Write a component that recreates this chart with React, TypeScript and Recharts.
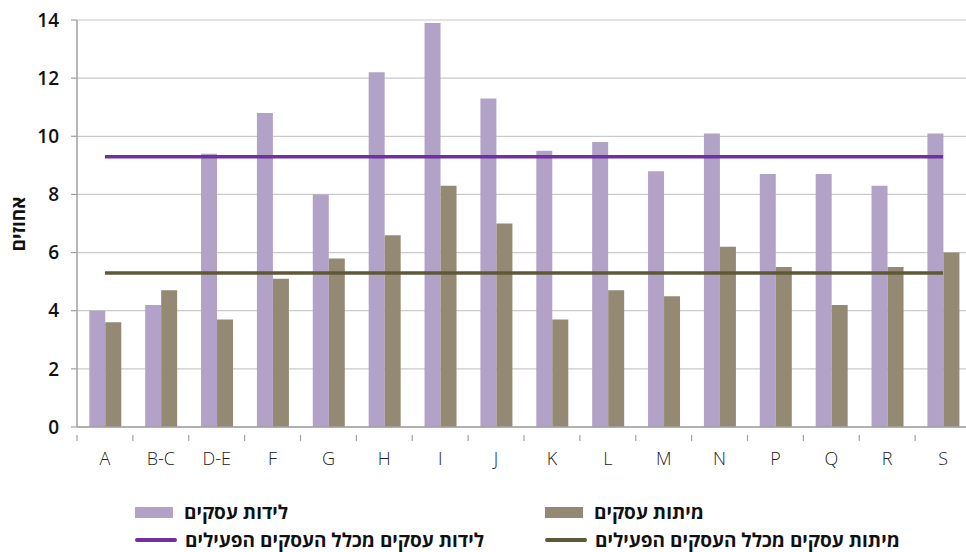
import React from "react";
import {
  ComposedChart,
  Bar,
  Line,
  XAxis,
  YAxis,
  CartesianGrid,
} from "recharts";

// sectors (x axis)
const categories = ["A", "B-C", "D-E", "F", "G", "H", "I", "J", "K", "L", "M", "N", "P", "Q", "R", "S"];
// business births, %
const births = [4.0, 4.2, 9.4, 10.8, 8.0, 12.2, 13.9, 11.3, 9.5, 9.8, 8.8, 10.1, 8.7, 8.7, 8.3, 10.1];
// business deaths, %
const deaths = [3.6, 4.7, 3.7, 5.1, 5.8, 6.6, 8.3, 7.0, 3.7, 4.7, 4.5, 6.2, 5.5, 4.2, 5.5, 6.0];
// averages across all active businesses
const birthsAll = 9.3;
const deathsAll = 5.3;
const yTicks = [0, 2, 4, 6, 8, 10, 12, 14];

const labels = {
  births: "לידות עסקים",
  deaths: "מיתות עסקים",
  birthsAll: "לידות עסקים מכלל העסקים הפעילים",
  deathsAll: "מיתות עסקים מכלל העסקים הפעילים",
  yAxis: "אחוזים",
};

const PURPLE_BAR = "#B3A2C7";
const OLIVE_BAR = "#948A74";
const PURPLE_LINE = "#7030A0";
const OLIVE_LINE = "#5F5837";
const AXIS = "#A0A0A0";
const GRID = "#CACACA";
const FONT = "'Open Sans', 'Liberation Sans', 'DejaVu Sans', sans-serif";

const CHART_W = 980;
const CHART_H = 552;
const Y_AXIS_W = 77;
const MARGIN = { top: 20, right: 9, left: 0, bottom: 85 };
const BAND = (CHART_W - Y_AXIS_W - MARGIN.left - MARGIN.right) / categories.length;

const data = categories.map((c, i) => ({
  name: c,
  births: births[i],
  deaths: deaths[i],
  birthsAll,
  deathsAll,
}));

function XTick(props: any) {
  const { x, y, payload } = props;
  const left = x - BAND / 2;
  return (
    <g>
      <line x1={left} y1={y} x2={left} y2={y + 6} stroke={AXIS} strokeWidth={1.2} />
      <text
        x={x}
        y={y + 30}
        textAnchor="middle"
        fontFamily={FONT}
        fontSize={18}
        fontWeight={300}
        fill="#222"
      >
        {payload.value}
      </text>
    </g>
  );
}

function LegendItem({
  left,
  top,
  color,
  kind,
  text,
}: {
  left: number;
  top: number;
  color: string;
  kind: "box" | "line";
  text: string;
}) {
  return (
    <div
      style={{
        position: "absolute",
        left,
        top,
        display: "flex",
        alignItems: "center",
        whiteSpace: "nowrap",
        fontFamily: FONT,
        fontWeight: 700,
        fontSize: 19,
        lineHeight: "22px",
        color: "#111",
        height: 22,
      }}
    >
      {kind === "box" ? (
        <div style={{ width: 38, height: 11, background: color, marginRight: 11 }} />
      ) : (
        <div style={{ width: 42, height: 4, background: color, borderRadius: 2, marginRight: 8 }} />
      )}
      <span dir="rtl">{text}</span>
    </div>
  );
}

export default function App() {
  return (
    <div
      style={{
        position: "absolute",
        left: 0,
        top: 0,
        width: 966,
        height: 552,
        overflow: "hidden",
        background: "#fff",
      }}
    >
      <ComposedChart
        width={CHART_W}
        height={CHART_H}
        data={data}
        margin={MARGIN}
        barCategoryGap="22%"
        barGap={0}
      >
        <CartesianGrid horizontal vertical={false} stroke={GRID} strokeWidth={1.2} />
        <XAxis
          dataKey="name"
          height={40}
          axisLine={{ stroke: AXIS, strokeWidth: 1.5 }}
          tickLine={false}
          tick={<XTick />}
          interval={0}
        />
        <YAxis
          width={Y_AXIS_W}
          domain={[0, 14]}
          ticks={yTicks}
          interval={0}
          axisLine={{ stroke: AXIS, strokeWidth: 1.5 }}
          tickLine={{ stroke: AXIS, strokeWidth: 1.2 }}
          tickSize={6}
          tickMargin={12}
          tick={{ fontFamily: FONT, fontSize: 19, fontWeight: 600, fill: "#111" }}
        />
        <Bar dataKey="births" fill={PURPLE_BAR} isAnimationActive={false} />
        <Bar dataKey="deaths" fill={OLIVE_BAR} isAnimationActive={false} />
        <Line
          dataKey="birthsAll"
          stroke={PURPLE_LINE}
          strokeWidth={3.5}
          dot={false}
          activeDot={false}
          isAnimationActive={false}
        />
        <Line
          dataKey="deathsAll"
          stroke={OLIVE_LINE}
          strokeWidth={3.5}
          dot={false}
          activeDot={false}
          isAnimationActive={false}
        />
        <text
          x={18}
          y={224}
          transform="rotate(-90 18 224)"
          textAnchor="middle"
          dominantBaseline="central"
          fontFamily={FONT}
          fontSize={19}
          fontWeight={700}
          fill="#111"
        >
          {labels.yAxis}
        </text>
      </ComposedChart>

      <LegendItem left={135} top={501} color={PURPLE_BAR} kind="box" text={labels.births} />
      <LegendItem left={545} top={501} color={OLIVE_BAR} kind="box" text={labels.deaths} />
      <LegendItem left={135} top={529} color={PURPLE_LINE} kind="line" text={labels.birthsAll} />
      <LegendItem left={545} top={529} color={OLIVE_LINE} kind="line" text={labels.deathsAll} />
    </div>
  );
}
